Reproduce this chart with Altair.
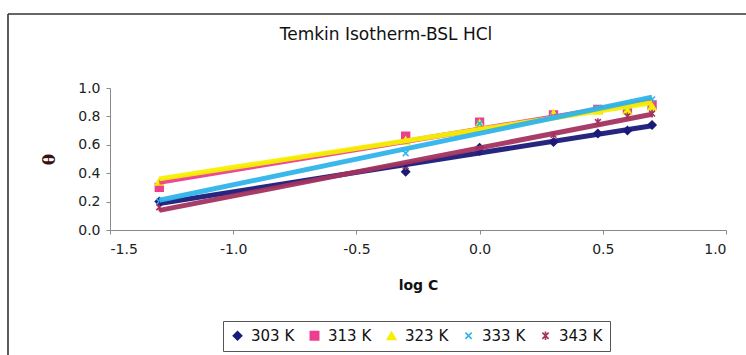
import altair as alt
import pandas as pd

# log of concentration (x) and surface coverage theta (y) for each temperature
log_c = [-1.3, -0.3, 0.0, 0.3, 0.48, 0.6, 0.7]
theta_303 = [0.20, 0.41, 0.58, 0.62, 0.68, 0.70, 0.74]
theta_313 = [0.30, 0.66, 0.76, 0.81, 0.85, 0.85, 0.88]
theta_323 = [0.34, 0.63, 0.75, 0.82, 0.84, 0.84, 0.87]
theta_333 = [0.20, 0.54, 0.75, 0.80, 0.86, 0.87, 0.92]
theta_343 = [0.16, 0.45, 0.55, 0.67, 0.76, 0.80, 0.82]

series_names = ["303 K", "313 K", "323 K", "333 K", "343 K"]
series_values = [theta_303, theta_313, theta_323, theta_333, theta_343]
series_colors = ["#1a1a7a", "#ec3f8f", "#f5f000", "#2fb4ea", "#a3335f"]

x_mark = "M-0.75,-0.75L0.75,0.75M-0.75,0.75L0.75,-0.75"
star_mark = "M-0.75,-0.75L0.75,0.75M-0.75,0.75L0.75,-0.75M0,-1L0,1"
series_shapes = ["diamond", "square", "triangle-up", x_mark, star_mark]

x_ticks = [-1.5, -1.0, -0.5, 0.0, 0.5, 1.0]
y_ticks = [0.0, 0.2, 0.4, 0.6, 0.8, 1.0]

chart_title = "Temkin Isotherm-BSL HCl"

rows = []
for name, vals in zip(series_names, series_values):
    for xv, yv in zip(log_c, vals):
        rows.append({"logC": xv, "theta": yv, "T": name})
df = pd.DataFrame(rows)

font = "DejaVu Sans"
hyphen_labels = "replace(format(datum.value, '.1f'), '\u2212', '-')"

x_enc = alt.X(
    "logC:Q",
    scale=alt.Scale(domain=[-1.5, 1.0], nice=False, zero=False),
    axis=alt.Axis(
        values=x_ticks,
        labelExpr=hyphen_labels,
        labelOverlap=False,
        title="log C",
        titleFontWeight="bold",
        titleFontSize=14,
        titleFont=font,
        titleY=55,
        titleBaseline="middle",
        labelFontSize=14,
        labelPadding=8,
    ),
)
y_enc = alt.Y(
    "theta:Q",
    scale=alt.Scale(domain=[0, 1.0], nice=False),
    axis=alt.Axis(
        values=y_ticks,
        tickCount=6,
        labelExpr=hyphen_labels,
        labelOverlap=False,
        title="θ",
        titleFontSize=17,
        titleFontWeight="bold",
        titleFont="DejaVu Serif",
        titleAngle=-90,
        titleX=-61,
        titleY=71,
        titleAlign="center",
        titleBaseline="middle",
        titleColor="#3a1010",
        labelFontSize=14,
        labelPadding=6,
    ),
)

color_scale = alt.Scale(domain=series_names, range=series_colors)
shape_scale = alt.Scale(domain=series_names, range=series_shapes)

base = alt.Chart(df)

points = base.mark_point(filled=True, size=60, strokeWidth=1.6, opacity=1).encode(
    x=x_enc,
    y=y_enc,
    color=alt.Color("T:N", scale=color_scale, title=None),
    stroke=alt.Stroke("T:N", scale=color_scale, title=None),
    shape=alt.Shape("T:N", scale=shape_scale, title=None),
)

trend = (
    base.transform_regression("logC", "theta", groupby=["T"])
    .mark_line(strokeWidth=5, opacity=0.95)
    .encode(
        x=x_enc,
        y=y_enc,
        color=alt.Color("T:N", scale=color_scale, title=None),
        detail="T:N",
    )
)

# outer chart-area border along the left and top edges
one_row = pd.DataFrame({"k": [0]})
frame_left = alt.Chart(one_row).mark_rule(color="#333333", strokeWidth=1.6).encode(
    x=alt.value(-102), y=alt.value(-74), y2=alt.value(300)
)
frame_top = alt.Chart(one_row).mark_rule(color="#333333", strokeWidth=1.6).encode(
    y=alt.value(-74), x=alt.value(-102), x2=alt.value(700)
)

title_text = (
    alt.Chart(pd.DataFrame({"t": [chart_title]}))
    .mark_text(font="DejaVu Sans", fontSize=17, color="#111111", align="center", baseline="middle")
    .encode(text="t:N", x=alt.value(276), y=alt.value(-53))
)

chart = (
    alt.layer(points, trend, title_text, frame_left, frame_top)
    .properties(
        width=616,
        height=142,
        autosize=alt.AutoSizeParams(type="none"),
        padding={"left": 110, "top": 88, "right": 20, "bottom": 125},
    )
    .configure_view(stroke=None)
    .configure_axis(
        grid=False,
        domainColor="#8a8a8a",
        tickColor="#8a8a8a",
        tickSize=4,
        labelColor="#222222",
        labelFont=font,
        titleColor="#111111",
    )
    .configure_legend(
        orient="none",
        legendX=113,
        legendY=233,
        direction="horizontal",
        columns=5,
        strokeColor="#555555",
        padding=7,
        labelFont=font,
        labelFontSize=15,
        labelColor="#111111",
        symbolSize=70,
        symbolStrokeWidth=1.6,
        columnPadding=12,
        labelOffset=6,
    )
)

chart.save("out.html", embed_options={"renderer": "svg", "actions": False})
